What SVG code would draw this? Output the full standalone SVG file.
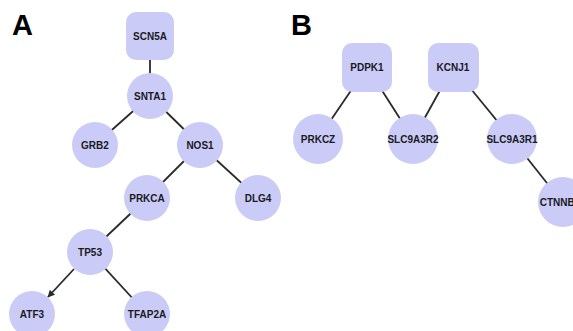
<svg xmlns="http://www.w3.org/2000/svg" width="573" height="331" viewBox="0 0 573 331">
<defs>
<style>
.n{fill:#cbcbf7;stroke:none}
.t{font-family:"Liberation Sans",Arial,sans-serif;font-weight:bold;font-size:10px;fill:#1a1a22;text-anchor:middle;dominant-baseline:central}
.e{stroke:#2a2a2a;stroke-width:1.8;fill:none}
.lbl{font-family:"Liberation Sans",Arial,sans-serif;font-weight:bold;font-size:29px;fill:#000}
</style>
<marker id="arr" viewBox="0 0 10 10" refX="9" refY="5" markerWidth="4" markerHeight="4" orient="auto" markerUnits="strokeWidth">
<path d="M0,0 L10,5 L0,10 z" fill="#2a2a2a"/>
</marker>
</defs>
<rect width="573" height="331" fill="#fff"/>
<text class="lbl" x="12" y="35">A</text>
<text class="lbl" x="291" y="35">B</text>
<g id="connectors">
<line class="e" x1="150" y1="36" x2="150" y2="96"/>
<line class="e" x1="150" y1="96" x2="95" y2="145"/>
<line class="e" x1="150" y1="96" x2="200" y2="145"/>
<line class="e" x1="200" y1="145" x2="147" y2="198"/>
<line class="e" x1="200" y1="145" x2="258" y2="198"/>
<line class="e" x1="147" y1="198" x2="90" y2="252"/>
<line class="e" x1="90" y1="252" x2="147" y2="314"/>
<line class="e" x1="74" y1="269" x2="48" y2="297" marker-end="url(#arr)"/>
<line class="e" x1="367" y1="67" x2="318" y2="139"/>
<line class="e" x1="367" y1="67" x2="413" y2="139"/>
<line class="e" x1="453" y1="67" x2="413" y2="139"/>
<line class="e" x1="453" y1="67" x2="512" y2="139"/>
<line class="e" x1="512" y1="139" x2="562" y2="202"/>
</g>
<g id="SCN5A"><rect class="n" x="126" y="12" width="48" height="48" rx="10"/><text class="t" x="150" y="36">SCN5A</text></g>
<g id="SNTA1"><circle class="n" cx="150" cy="96" r="23"/><text class="t" x="150" y="96">SNTA1</text></g>
<g id="GRB2"><circle class="n" cx="95" cy="145" r="23"/><text class="t" x="95" y="145">GRB2</text></g>
<g id="NOS1"><circle class="n" cx="200" cy="145" r="23"/><text class="t" x="200" y="145">NOS1</text></g>
<g id="PRKCA"><circle class="n" cx="147" cy="198" r="23"/><text class="t" x="147" y="198">PRKCA</text></g>
<g id="DLG4"><circle class="n" cx="258" cy="198" r="23"/><text class="t" x="258" y="198">DLG4</text></g>
<g id="TP53"><circle class="n" cx="90" cy="252" r="23"/><text class="t" x="90" y="252">TP53</text></g>
<g id="ATF3"><circle class="n" cx="32" cy="314" r="23"/><text class="t" x="32" y="314">ATF3</text></g>
<g id="TFAP2A"><circle class="n" cx="147" cy="314" r="23"/><text class="t" x="147" y="314">TFAP2A</text></g>
<g id="PDPK1"><rect class="n" x="342" y="43" width="50" height="49" rx="10"/><text class="t" x="367" y="67">PDPK1</text></g>
<g id="KCNJ1"><rect class="n" x="428" y="43" width="51" height="49" rx="10"/><text class="t" x="453" y="67">KCNJ1</text></g>
<g id="PRKCZ"><circle class="n" cx="318" cy="139" r="25"/><text class="t" x="318" y="139">PRKCZ</text></g>
<g id="SLC9A3R2"><circle class="n" cx="413" cy="139" r="25"/><text class="t" x="413" y="139">SLC9A3R2</text></g>
<g id="SLC9A3R1"><circle class="n" cx="512" cy="139" r="25"/><text class="t" x="512" y="139">SLC9A3R1</text></g>
<g id="CTNNB1"><circle class="n" cx="563" cy="202" r="25"/><text class="t" x="560" y="202">CTNNB1</text></g>
</svg>
